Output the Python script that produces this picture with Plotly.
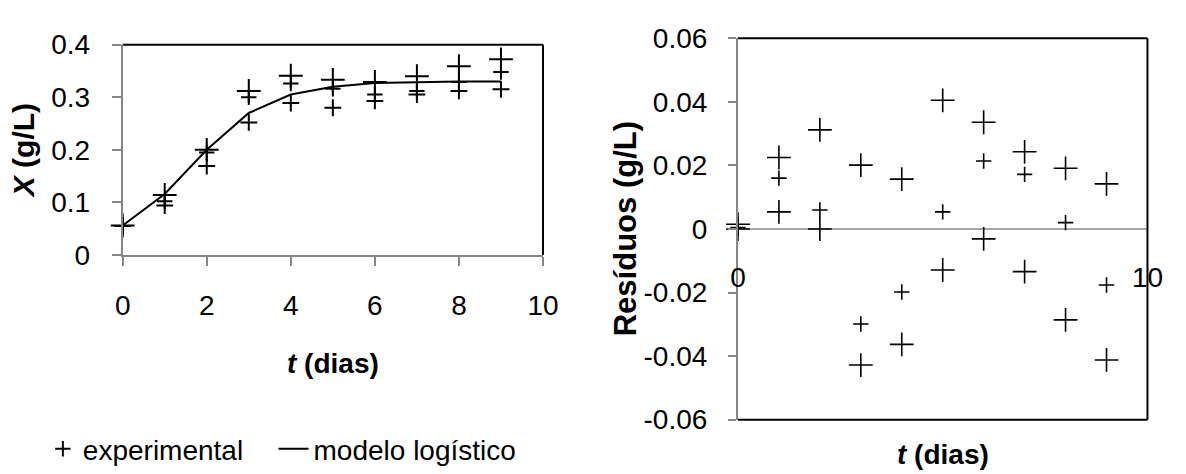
import plotly.graph_objects as go

# Growth data: biomass X (g/L) for three replicates over time t (days)
t_days = [0, 1, 2, 3, 4, 5, 6, 7, 8, 9]
x_rep_a = [0.056, 0.114, 0.200, 0.312, 0.341, 0.333, 0.329, 0.340, 0.359, 0.372]
x_rep_b = [0.055, 0.102, 0.195, 0.300, 0.326, 0.316, 0.305, 0.312, 0.329, 0.348]
x_rep_c = [0.055, 0.094, 0.169, 0.252, 0.289, 0.280, 0.293, 0.305, 0.312, 0.315]

# Logistic model fitted to the data
x_model = [0.056, 0.116, 0.200, 0.270, 0.305, 0.320, 0.327, 0.329, 0.330, 0.330]

# Residuals of the logistic fit (g/L), one list per replicate
res_a = [0.0015, 0.0225, 0.0312, 0.0201, 0.0157, 0.0405, 0.0336, 0.0243, 0.0191, 0.0142]
res_b = [0.0005, 0.0160, 0.0060, -0.0299, -0.0198, 0.0054, 0.0214, 0.0172, 0.0020, -0.0176]
res_c = [0.0, 0.0054, 0.0, -0.0428, -0.0363, -0.0129, -0.0031, -0.0134, -0.0286, -0.0412]

left_yticks = [0, 0.1, 0.2, 0.3, 0.4]
left_ytext = ["0", "0.1", "0.2", "0.3", "0.4"]
left_xticks = [0, 2, 4, 6, 8, 10]
right_yticks = [-0.06, -0.04, -0.02, 0, 0.02, 0.04, 0.06]
right_ytext = ["-0.06", "-0.04", "-0.02", "0", "0.02", "0.04", "0.06"]
right_xticks = [0, 10]

FONT = "Liberation Sans, Arial, sans-serif"
GRAY = "#868686"


def cross(size, width=2):
    return dict(symbol="cross-thin", size=size, color="black",
                line=dict(color="black", width=width))


fig = go.Figure()

# Left panel: experimental points and logistic model
fig.add_trace(go.Scatter(x=t_days, y=x_rep_b, mode="markers", name="experimental",
                         marker=cross(11), cliponaxis=False, xaxis="x", yaxis="y",
                         legend="legend"))
fig.add_trace(go.Scatter(x=t_days, y=x_rep_a, mode="markers", showlegend=False,
                         marker=cross(17), cliponaxis=False, xaxis="x", yaxis="y"))
fig.add_trace(go.Scatter(x=t_days, y=x_rep_c, mode="markers", showlegend=False,
                         marker=cross(12), cliponaxis=False, xaxis="x", yaxis="y"))
fig.add_trace(go.Scatter(x=t_days, y=x_model, mode="lines", name="modelo logístico",
                         line=dict(color="black", width=2), xaxis="x", yaxis="y",
                         legend="legend2"))

# Right panel: residuals
fig.add_trace(go.Scatter(x=t_days, y=res_a, mode="markers", showlegend=False,
                         marker=cross(17, 1.6), cliponaxis=False, xaxis="x2", yaxis="y2"))
fig.add_trace(go.Scatter(x=t_days, y=res_b, mode="markers", showlegend=False,
                         marker=cross(11, 1.6), cliponaxis=False, xaxis="x2", yaxis="y2"))
fig.add_trace(go.Scatter(x=t_days, y=res_c, mode="markers", showlegend=False,
                         marker=cross(17, 1.6), cliponaxis=False, xaxis="x2", yaxis="y2"))

tickfont = dict(family=FONT, size=28, color="black")
legend_common = dict(orientation="h", xanchor="left", y=0.02, yanchor="middle",
                     font=dict(family=FONT, size=28, color="black"),
                     bgcolor="rgba(0,0,0,0)")

fig.update_layout(
    width=1186, height=474,
    margin=dict(l=0, r=0, t=0, b=0),
    paper_bgcolor="white", plot_bgcolor="white",
    font=dict(family=FONT, color="black"),
    xaxis=dict(domain=[0.0987, 0.4604], range=[0, 10], tickvals=left_xticks,
               showgrid=False, zeroline=False, showline=True, linecolor=GRAY, linewidth=2,
               ticks="outside", ticklen=9, tickwidth=2, tickcolor=GRAY,
               tickfont=tickfont, ticklabelstandoff=15, anchor="y"),
    yaxis=dict(domain=[0.4584, 0.9331], range=[0, 0.4], tickvals=left_yticks,
               ticktext=left_ytext, showgrid=False, zeroline=False, showline=True,
               linecolor=GRAY, linewidth=2, ticks="outside", ticklen=9, tickwidth=2,
               tickcolor=GRAY, tickfont=tickfont, ticklabelstandoff=16, anchor="x"),
    xaxis2=dict(domain=[0.6282, 0.9806], range=[0, 10], tickvals=right_xticks,
                showgrid=False, zeroline=False, showline=False, ticks="",
                tickfont=tickfont, anchor="free", position=0.5169,
                ticklabelstandoff=29),
    yaxis2=dict(domain=[0.0865, 0.9473], range=[-0.06, 0.06], tickvals=right_yticks,
                ticktext=right_ytext, showgrid=False, zeroline=True, zerolinecolor="#a6a6a6",
                zerolinewidth=2, showline=True, linecolor=GRAY, linewidth=2,
                ticks="outside", ticklen=8, tickwidth=2, tickcolor=GRAY,
                tickfont=tickfont, ticklabelstandoff=15, anchor="x2"),
    legend=dict(x=0.03, **legend_common),
    legend2=dict(x=0.2285, **legend_common),
    showlegend=True,
)

# Plot-area borders (black) on the sides without axis lines
border = dict(color="black", width=2)
for xr, yr, sides in (("x domain", "y domain", ("top", "right")),
                      ("x2 domain", "y2 domain", ("top", "right", "bottom"))):
    for side in sides:
        if side == "top":
            x0, y0, x1, y1 = 0, 1, 1, 1
        elif side == "bottom":
            x0, y0, x1, y1 = 0, 0, 1, 0
        else:
            x0, y0, x1, y1 = 1, 0, 1, 1
        fig.add_shape(type="line", xref=xr, yref=yr, x0=x0, y0=y0, x1=x1, y1=y1,
                      line=border)

# Axis titles
htitle = dict(family=FONT, size=28, color="black")
fig.add_annotation(text="<b><i>X</i> (g/L)</b>", xref="paper", yref="paper",
                   x=0.0135, y=0.694, xanchor="center", yanchor="middle",
                   textangle=-90, showarrow=False,
                   font=dict(family=FONT, size=30, color="black"))
fig.add_annotation(text="<b><i>t</i> (dias)</b>", xref="paper", yref="paper",
                   x=0.2799, y=0.214, xanchor="center", yanchor="middle",
                   showarrow=False, font=htitle)
fig.add_annotation(text="<b>Resíduos (g/L)</b>", xref="paper", yref="paper",
                   x=0.5312, y=0.5169, xanchor="center", yanchor="middle",
                   textangle=-90, showarrow=False,
                   font=dict(family=FONT, size=31, color="black"))
fig.add_annotation(text="<b><i>t</i> (dias)</b>", xref="paper", yref="paper",
                   x=0.8044, y=0.008, xanchor="center", yanchor="middle",
                   showarrow=False, font=htitle)

fig.write_html("out.html")
